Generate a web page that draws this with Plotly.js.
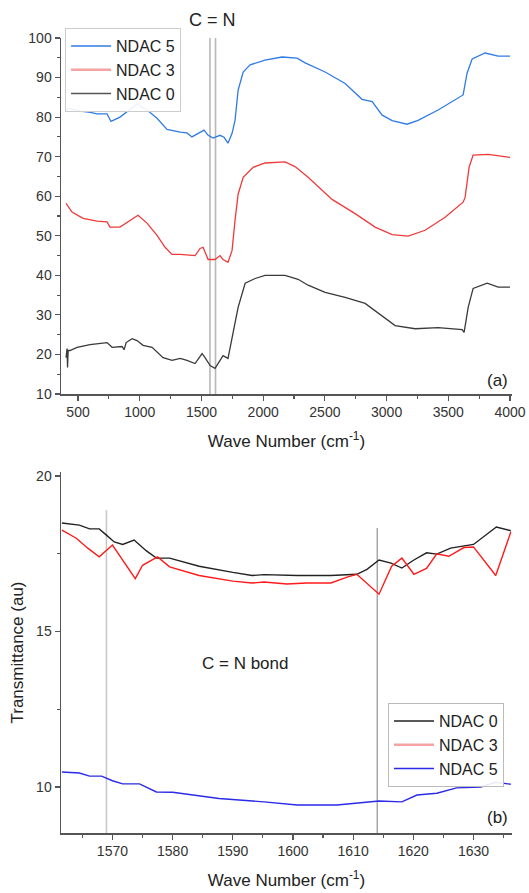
<!DOCTYPE html>
<html>
<head>
<meta charset="utf-8">
<script src="https://cdn.plot.ly/plotly-3.0.1.min.js"></script>
<style>html,body{margin:0;padding:0;background:#fff}#chart{width:529px;height:893px}</style>
</head>
<body>
<div id="chart"></div>
<script>
// ---------- Panel (a): full FTIR spectra ----------
const waveA_ndac5 = [403, 430, 516, 600, 654, 735, 767, 840, 978, 1059, 1140, 1221, 1327, 1383, 1423, 1475, 1521, 1554, 1595, 1650, 1683, 1715, 1748, 1772, 1797, 1838, 1894, 2015, 2153, 2275, 2340, 2502, 2664, 2801, 2883, 2964, 3045, 3166, 3255, 3417, 3620, 3652, 3693, 3798, 3904, 4000];
const transA_ndac5 = [81.8, 82.2, 81.5, 81.2, 80.8, 80.8, 78.9, 80.0, 83.3, 81.8, 79.7, 76.9, 76.2, 76.0, 75.0, 75.9, 76.7, 75.4, 74.7, 75.4, 74.9, 73.4, 75.9, 79.2, 86.8, 91.4, 93.2, 94.4, 95.2, 94.9, 93.7, 91.4, 88.5, 84.5, 83.9, 80.5, 79.1, 78.2, 79.2, 81.8, 85.6, 91.1, 94.7, 96.2, 95.4, 95.4];

const waveA_ndac3 = [403, 451, 541, 654, 735, 759, 840, 921, 986, 1059, 1140, 1205, 1262, 1327, 1448, 1489, 1513, 1554, 1610, 1650, 1675, 1715, 1748, 1772, 1797, 1838, 1919, 2015, 2177, 2258, 2364, 2558, 2745, 2907, 3045, 3174, 3312, 3474, 3620, 3636, 3669, 3701, 3823, 4000];
const transA_ndac3 = [58.2, 56.0, 54.4, 53.7, 53.5, 52.2, 52.2, 53.9, 55.2, 53.2, 50.1, 47.1, 45.3, 45.3, 45.0, 46.8, 47.1, 44.0, 44.0, 45.0, 44.0, 43.3, 46.3, 53.9, 60.5, 64.8, 67.3, 68.4, 68.7, 67.5, 64.8, 59.2, 55.6, 52.2, 50.3, 49.9, 51.4, 54.7, 58.5, 59.7, 67.4, 70.4, 70.6, 69.8];

const waveA_ndac0 = [403, 411, 415, 420, 435, 492, 597, 735, 776, 857, 873, 890, 938, 978, 1027, 1100, 1189, 1262, 1327, 1383, 1448, 1505, 1529, 1570, 1610, 1650, 1675, 1715, 1756, 1797, 1854, 1935, 2015, 2177, 2283, 2364, 2502, 2664, 2826, 2931, 3069, 3231, 3417, 3612, 3628, 3661, 3701, 3815, 3904, 4000];
const transA_ndac0 = [19.2, 21.5, 16.7, 21.0, 21.0, 21.8, 22.5, 23.0, 21.8, 22.0, 21.2, 23.0, 24.0, 23.5, 22.3, 21.8, 19.2, 18.5, 19.0, 18.5, 17.7, 20.2, 19.2, 17.2, 16.5, 18.5, 19.7, 19.0, 25.3, 31.9, 38.0, 39.2, 40.0, 40.0, 39.0, 37.5, 35.7, 34.4, 32.9, 30.4, 27.3, 26.5, 26.8, 26.3, 25.6, 31.9, 36.7, 38.0, 37.0, 37.0];

// ---------- Panel (b): C=N region ----------
const waveB_ndac0 = [1561.6, 1564.5, 1566.2, 1567.8, 1569, 1570.3, 1571.7, 1573.6, 1575.6, 1577.3, 1579.5, 1584.4, 1590, 1593.2, 1595.2, 1600.7, 1606.3, 1610.6, 1612.3, 1614.3, 1616.3, 1618.1, 1620.1, 1622.2, 1623.9, 1626.2, 1630, 1631.7, 1633.8, 1636.2];
const transB_ndac0 = [18.49, 18.42, 18.3, 18.3, 18.1, 17.88, 17.8, 17.94, 17.6, 17.36, 17.36, 17.1, 16.9, 16.8, 16.83, 16.8, 16.8, 16.84, 17.0, 17.3, 17.2, 17.04, 17.3, 17.53, 17.49, 17.68, 17.8, 18.04, 18.36, 18.24];

const waveB_ndac3 = [1561.6, 1564, 1565.9, 1567.8, 1570, 1572, 1573.8, 1575, 1577.5, 1579.5, 1584.4, 1590, 1593.2, 1595.2, 1599, 1602.3, 1606.3, 1609, 1610.6, 1614.3, 1616.4, 1618.1, 1620.1, 1622.2, 1623.9, 1625.9, 1628.4, 1630, 1633.7, 1636.2];
const transB_ndac3 = [18.26, 18.0, 17.68, 17.4, 17.78, 17.23, 16.7, 17.13, 17.4, 17.08, 16.8, 16.62, 16.56, 16.59, 16.53, 16.56, 16.56, 16.75, 16.84, 16.2, 17.1, 17.36, 16.84, 17.03, 17.5, 17.42, 17.7, 17.72, 16.8, 18.2];

const waveB_ndac5 = [1561.6, 1564.5, 1566.2, 1568.2, 1570, 1571.7, 1574.5, 1577.3, 1580, 1584.4, 1587.7, 1595.2, 1600.7, 1607.3, 1610.6, 1614.3, 1618.1, 1620.6, 1623.9, 1627.2, 1631.2, 1633.7, 1636.2];
const transB_ndac5 = [10.48, 10.45, 10.35, 10.35, 10.2, 10.1, 10.1, 9.84, 9.83, 9.71, 9.63, 9.52, 9.42, 9.42, 9.49, 9.55, 9.52, 9.74, 9.8, 9.97, 10.0, 10.15, 10.09];

// C=N marker positions (cm-1) and the tops of the marker lines in panel (b)
const cnLines = [1569, 1614];
const cnLineTopsB = [18.9, 18.33];

const seriesNames = ["NDAC 0", "NDAC 3", "NDAC 5"];

const FONT = "Liberation Sans, Arial, Helvetica, sans-serif";
const axisCol = "#555";

const cA = {n5: "#2f7be6", n3: "#f03a3a", n0: "#3a3a3a"};
const cB = {n0: "#222222", n3: "#ff1a1a", n5: "#2a2ae8"};
const legPink = "#f6a3a3";

const traces = [];
// panel a data traces
traces.push({x: waveA_ndac5, y: transA_ndac5, mode: "lines", line: {color: cA.n5, width: 1.3}, xaxis: "x", yaxis: "y", showlegend: false});
traces.push({x: waveA_ndac3, y: transA_ndac3, mode: "lines", line: {color: cA.n3, width: 1.3}, xaxis: "x", yaxis: "y", showlegend: false});
traces.push({x: waveA_ndac0, y: transA_ndac0, mode: "lines", line: {color: cA.n0, width: 1.3}, xaxis: "x", yaxis: "y", showlegend: false});
// panel a legend entries
traces.push({x: [null], y: [null], mode: "lines", name: seriesNames[2], line: {color: cA.n5, width: 1.5}, xaxis: "x", yaxis: "y", legend: "legend"});
traces.push({x: [null], y: [null], mode: "lines", name: seriesNames[1], line: {color: legPink, width: 2.5}, xaxis: "x", yaxis: "y", legend: "legend"});
traces.push({x: [null], y: [null], mode: "lines", name: seriesNames[0], line: {color: "#555", width: 1.5}, xaxis: "x", yaxis: "y", legend: "legend"});
// panel b
traces.push({x: waveB_ndac0, y: transB_ndac0, mode: "lines", line: {color: cB.n0, width: 1.4}, xaxis: "x2", yaxis: "y2", showlegend: false});
traces.push({x: waveB_ndac3, y: transB_ndac3, mode: "lines", line: {color: cB.n3, width: 1.4}, xaxis: "x2", yaxis: "y2", showlegend: false});
traces.push({x: waveB_ndac5, y: transB_ndac5, mode: "lines", line: {color: cB.n5, width: 1.4}, xaxis: "x2", yaxis: "y2", showlegend: false});
traces.push({x: [null], y: [null], mode: "lines", name: seriesNames[0], line: {color: cB.n0, width: 1.5}, xaxis: "x2", yaxis: "y2", legend: "legend2"});
traces.push({x: [null], y: [null], mode: "lines", name: seriesNames[1], line: {color: legPink, width: 2.5}, xaxis: "x2", yaxis: "y2", legend: "legend2"});
traces.push({x: [null], y: [null], mode: "lines", name: seriesNames[2], line: {color: cB.n5, width: 1.5}, xaxis: "x2", yaxis: "y2", legend: "legend2"});

const shapes = [];
cnLines.forEach(v => {
  shapes.push({type: "line", xref: "x", yref: "y", x0: v, x1: v, y0: 10, y1: 100.3, line: {color: "#b8b8b8", width: 1.6}, layer: "below"});
});
shapes.push({type: "line", xref: "x2", yref: "y2", x0: cnLines[0], x1: cnLines[0], y0: 8.52, y1: cnLineTopsB[0], line: {color: "#c8c8c8", width: 1.6}, layer: "below"});
shapes.push({type: "line", xref: "x2", yref: "y2", x0: cnLines[1], x1: cnLines[1], y0: 8.52, y1: cnLineTopsB[1], line: {color: "#888888", width: 1.1}, layer: "below"});

const baseAxis = {
  showline: true, linecolor: axisCol, linewidth: 1.5, mirror: false,
  ticks: "outside", ticklen: 5, tickwidth: 1.2, tickcolor: axisCol,
  showgrid: false, zeroline: false, automargin: false,
  tickfont: {family: FONT, size: 14, color: "#333"}
};

const titleText = "Wave Number (cm<sup>-1</sup>)";

const layout = {
  width: 529, height: 893,
  margin: {l: 61, r: 17, t: 38, b: 60},
  paper_bgcolor: "#fff", plot_bgcolor: "#fff",
  font: {family: FONT, color: "#222"},
  xaxis: Object.assign({}, baseAxis, {
    domain: [0, 1], anchor: "y", range: [362, 4016], tick0: 500, dtick: 500,
    minor: {ticks: "outside", ticklen: 3, dtick: 250, tick0: 500, tickcolor: axisCol, showgrid: false},
    title: {text: titleText, font: {family: FONT, size: 17, color: "#222"}, standoff: 16}
  }),
  yaxis: Object.assign({}, baseAxis, {
    domain: [0.5522, 1], anchor: "x", range: [10, 100], tick0: 10, dtick: 10,
    minor: {ticks: "outside", ticklen: 3, dtick: 5, tick0: 10, tickcolor: axisCol, showgrid: false}
  }),
  xaxis2: Object.assign({}, baseAxis, {
    domain: [0, 1], anchor: "y2", range: [1561.45, 1636.4], tick0: 1570, dtick: 10,
    minor: {ticks: "outside", ticklen: 3, dtick: 5, tick0: 1570, tickcolor: axisCol, showgrid: false},
    title: {text: titleText, font: {family: FONT, size: 17, color: "#222"}, standoff: 16}
  }),
  yaxis2: Object.assign({}, baseAxis, {
    domain: [0, 0.4541], anchor: "x2", range: [8.52, 20.13], tick0: 10, dtick: 5,
    minor: {ticks: "outside", ticklen: 3, dtick: 2.5, tick0: 10, tickcolor: axisCol, showgrid: false},
    title: {text: "Transmittance (au)", font: {family: FONT, size: 17, color: "#222"}, standoff: 8}
  }),
  legend: {
    x: 0.009, y: 1.0126, xanchor: "left", yanchor: "top",
    bgcolor: "rgba(255,255,255,0.9)", bordercolor: "#cccccc", borderwidth: 1,
    font: {family: FONT, size: 16, color: "#222"}, tracegroupgap: 0, itemwidth: 40
  },
  legend2: {
    x: 0.725, y: 0.1635, xanchor: "left", yanchor: "top",
    bgcolor: "rgba(255,255,255,0.9)", bordercolor: "#bbbbbb", borderwidth: 1,
    font: {family: FONT, size: 16, color: "#222"}, tracegroupgap: 0, itemwidth: 40
  },
  shapes: shapes,
  annotations: [
    {text: "C = N", xref: "x", yref: "paper", x: (cnLines[0] + cnLines[1]) / 2, y: 1.0226, xanchor: "center", yanchor: "middle", showarrow: false, font: {family: FONT, size: 18, color: "#222"}},
    {text: "(a)", xref: "paper", yref: "paper", x: 0.967, y: 0.5686, xanchor: "center", yanchor: "middle", showarrow: false, font: {family: FONT, size: 17, color: "#222"}},
    {text: "(b)", xref: "paper", yref: "paper", x: 0.967, y: 0.0189, xanchor: "center", yanchor: "middle", showarrow: false, font: {family: FONT, size: 17, color: "#222"}},
    {text: "C = N bond", xref: "paper", yref: "paper", x: 0.408, y: 0.2126, xanchor: "center", yanchor: "middle", showarrow: false, font: {family: FONT, size: 17, color: "#222"}}
  ],
  showlegend: true
};

Plotly.newPlot("chart", traces, layout, {displayModeBar: false, staticPlot: true});
</script>
</body>
</html>
